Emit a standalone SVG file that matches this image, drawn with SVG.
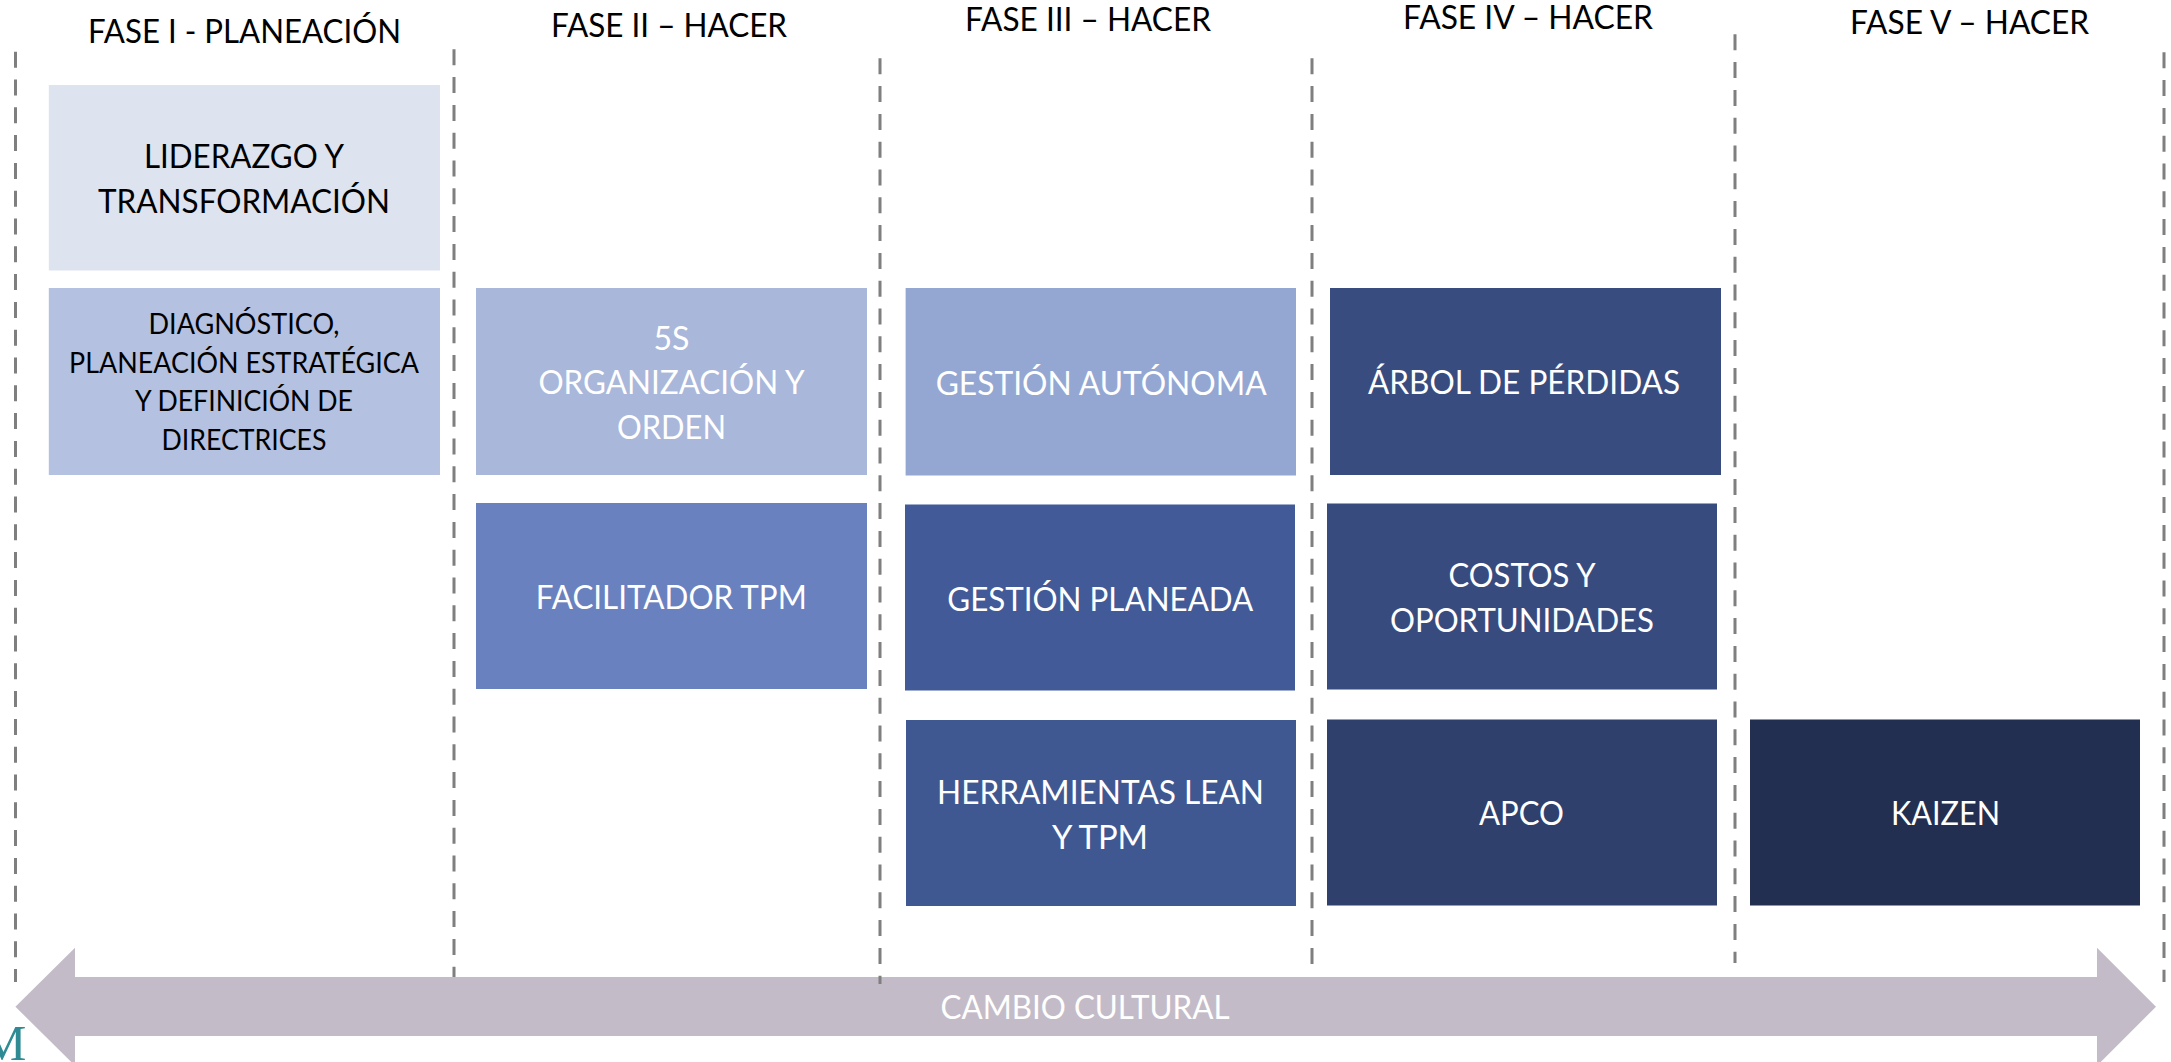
<svg xmlns="http://www.w3.org/2000/svg" width="2171" height="1062" viewBox="0 0 2171 1062">
<style>
.t{font-family:Lato,"Open Sans","Liberation Sans",sans-serif;font-size:33px;text-anchor:middle}
.s{font-size:28.3px}
.k{fill:#000}
.w{fill:#fff}
.sep{stroke:#7f7f7f;stroke-width:3;stroke-dasharray:16 11.8;fill:none}
</style>
<rect width="2171" height="1062" fill="#fff"/>

<g id="cambio-cultural">
<polygon points="15.4,1006.7 75,947.7 75,977 2097,977 2097,947.7 2156,1006.7 2097,1065.7 2097,1036 75,1036 75,1065.7" fill="#c3bcc8"/>
<text class="t w" x="1085" y="1019" textLength="289" lengthAdjust="spacingAndGlyphs">CAMBIO CULTURAL</text>
</g>

<text x="-19" y="1060" font-family="'Liberation Serif',serif" font-size="51" fill="#2e8b93">M</text>

<g id="connectors">
<line class="sep" x1="15.5" y1="51.7" x2="15.5" y2="982"/>
<line class="sep" x1="454" y1="49.3" x2="454" y2="977"/>
<line class="sep" x1="880" y1="58.3" x2="880" y2="984"/>
<line class="sep" x1="1312" y1="58.3" x2="1312" y2="970"/>
<line class="sep" x1="1735" y1="34.3" x2="1735" y2="963"/>
<line class="sep" x1="2164" y1="52.3" x2="2164" y2="982"/>
</g>

<g id="fase-1"><text class="t k" x="244.5" y="43.3" textLength="313" lengthAdjust="spacingAndGlyphs">FASE I - PLANEACIÓN</text></g>
<g id="fase-2"><text class="t k" x="669" y="37.3" textLength="236" lengthAdjust="spacingAndGlyphs">FASE II – HACER</text></g>
<g id="fase-3"><text class="t k" x="1088" y="30.7" textLength="246" lengthAdjust="spacingAndGlyphs">FASE III – HACER</text></g>
<g id="fase-4"><text class="t k" x="1528" y="29" textLength="250" lengthAdjust="spacingAndGlyphs">FASE IV – HACER</text></g>
<g id="fase-5"><text class="t k" x="1969.5" y="34" textLength="239" lengthAdjust="spacingAndGlyphs">FASE V – HACER</text></g>

<g id="liderazgo">
<rect x="48.8" y="85" width="391.2" height="185.5" fill="#dde3ef"/>
<text class="t k" x="244" y="168.3" textLength="200" lengthAdjust="spacingAndGlyphs">LIDERAZGO Y</text>
<text class="t k" x="244" y="212.7" textLength="292" lengthAdjust="spacingAndGlyphs">TRANSFORMACIÓN</text>
</g>

<g id="diagnostico">
<rect x="48.8" y="288" width="391.2" height="187" fill="#b4c1e1"/>
<text class="t s k" x="244" y="334" textLength="191" lengthAdjust="spacingAndGlyphs">DIAGNÓSTICO,</text>
<text class="t s k" x="244" y="372.5" textLength="350" lengthAdjust="spacingAndGlyphs">PLANEACIÓN ESTRATÉGICA</text>
<text class="t s k" x="244" y="411" textLength="218" lengthAdjust="spacingAndGlyphs">Y DEFINICIÓN DE</text>
<text class="t s k" x="244" y="449.5" textLength="165" lengthAdjust="spacingAndGlyphs">DIRECTRICES</text>
</g>

<g id="cinco-s">
<rect x="476" y="288" width="391" height="187" fill="#a9b7da"/>
<text class="t w" x="671.5" y="350" textLength="36" lengthAdjust="spacingAndGlyphs">5S</text>
<text class="t w" x="671.5" y="394.3" textLength="266" lengthAdjust="spacingAndGlyphs">ORGANIZACIÓN Y</text>
<text class="t w" x="671.5" y="438.6" textLength="109" lengthAdjust="spacingAndGlyphs">ORDEN</text>
</g>

<g id="facilitador">
<rect x="476" y="503" width="391" height="186" fill="#6a81bf"/>
<text class="t w" x="671.3" y="608.5" textLength="271" lengthAdjust="spacingAndGlyphs">FACILITADOR TPM</text>
</g>

<g id="gestion-autonoma">
<rect x="905.6" y="288" width="390.4" height="187.5" fill="#94a7d2"/>
<text class="t w" x="1101.2" y="395" textLength="331" lengthAdjust="spacingAndGlyphs">GESTIÓN AUTÓNOMA</text>
</g>

<g id="gestion-planeada">
<rect x="905" y="504.5" width="390" height="186" fill="#425a97"/>
<text class="t w" x="1100.3" y="611" textLength="306" lengthAdjust="spacingAndGlyphs">GESTIÓN PLANEADA</text>
</g>

<g id="herramientas">
<rect x="906" y="720" width="390" height="186" fill="#3f5892"/>
<text class="t w" x="1100.5" y="804" textLength="327" lengthAdjust="spacingAndGlyphs">HERRAMIENTAS LEAN</text>
<text class="t w" x="1100" y="848.5" textLength="96" lengthAdjust="spacingAndGlyphs">Y TPM</text>
</g>

<g id="arbol">
<rect x="1330" y="288" width="391" height="187" fill="#384c80"/>
<text class="t w" x="1524" y="393.5" textLength="312" lengthAdjust="spacingAndGlyphs">ÁRBOL DE PÉRDIDAS</text>
</g>

<g id="costos">
<rect x="1327" y="503.5" width="390" height="186" fill="#374b7f"/>
<text class="t w" x="1522" y="587" textLength="147" lengthAdjust="spacingAndGlyphs">COSTOS Y</text>
<text class="t w" x="1522" y="631.5" textLength="264" lengthAdjust="spacingAndGlyphs">OPORTUNIDADES</text>
</g>

<g id="apco">
<rect x="1327" y="719.5" width="390" height="186" fill="#2f406c"/>
<text class="t w" x="1521.5" y="824.5" textLength="85" lengthAdjust="spacingAndGlyphs">APCO</text>
</g>

<g id="kaizen">
<rect x="1750" y="719.5" width="390" height="186" fill="#232f50"/>
<text class="t w" x="1945.5" y="824.5" textLength="109" lengthAdjust="spacingAndGlyphs">KAIZEN</text>
</g>
</svg>
